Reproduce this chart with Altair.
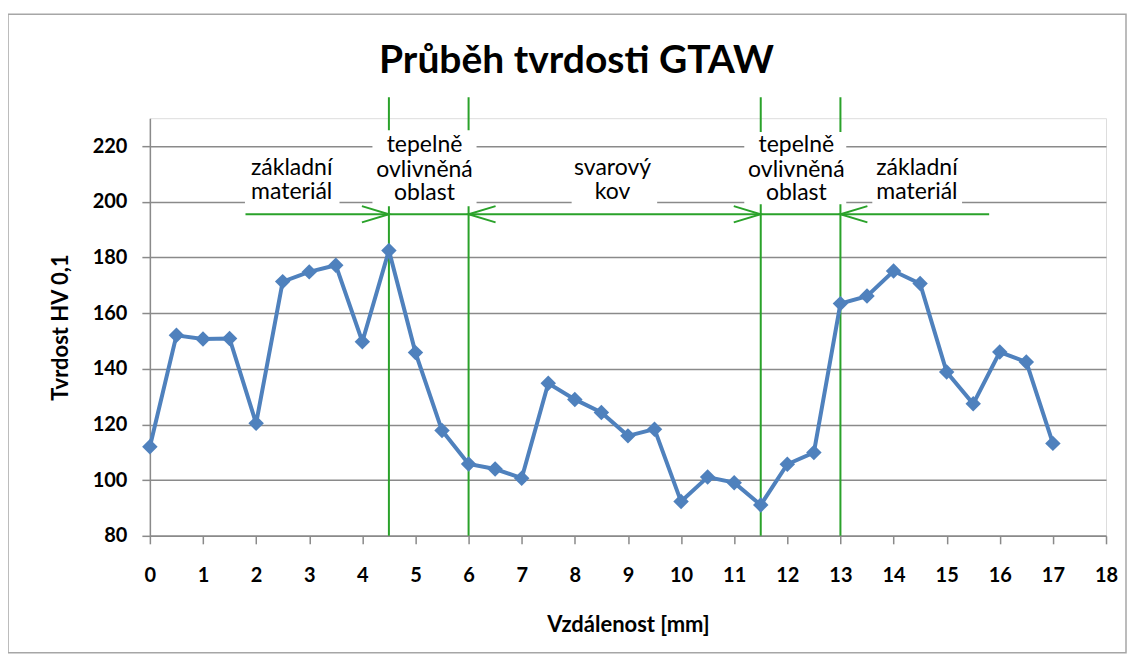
import altair as alt
import pandas as pd

# ---- data ----
distance = [0, 0.5, 1, 1.5, 2, 2.5, 3, 3.5, 4, 4.5, 5, 5.5, 6, 6.5, 7, 7.5, 8, 8.5,
            9, 9.5, 10, 10.5, 11, 11.5, 12, 12.5, 13, 13.5, 14, 14.5, 15, 15.5, 16, 16.5, 17]
hardness = [112, 152, 150.7, 150.9, 120.4, 171.3, 174.8, 177.2, 149.7, 182.5, 145.8, 117.8,
            105.8, 104, 100.7, 134.8, 129, 124.3, 115.9, 118.3, 92.3, 101.1, 99.1, 91.1,
            105.7, 109.9, 163.4, 166.1, 175.1, 170.6, 138.8, 127.4, 146, 142.4, 113.2]

x_ticks = [0, 1, 2, 3, 4, 5, 6, 7, 8, 9, 10, 11, 12, 13, 14, 15, 16, 17, 18]
y_ticks = [80, 100, 120, 140, 160, 180, 200, 220]
x_domain = [0, 18]
y_domain = [80, 230]

zone_x = [4.5, 6, 11.5, 13]
zone_bottom = 80
zone_top = 237.5

arrow_start = 1.8
arrow_end = 15.8
arrow_y = 195.5
head_x = [4.5, 6, 11.5, 13]
head_angle = [0, 180, 0, 180]

ann_text = ["základní", "materiál", "tepelně", "ovlivněná", "oblast", "svarový", "kov",
            "tepelně", "ovlivněná", "oblast", "základní", "materiál"]
ann_x = [2.67, 2.67, 5.17, 5.17, 5.17, 8.71, 8.71, 12.17, 12.17, 12.17, 14.44, 14.44]
ann_y = [212.0, 203.4, 220.3, 211.4, 203.1, 212.0, 203.4, 220.3, 211.5, 203.0, 212.0, 203.4]

box_x1 = [1.79, 4.19, 7.94, 11.19, 13.6]
box_x2 = [3.57, 6.15, 9.55, 13.11, 15.29]
box_top = [218.5, 225.7, 218.5, 225.0, 218.5]
box_bottom = [198.8, 198.4, 198.8, 199.1, 198.8]

title_text = "Průběh tvrdosti GTAW"
x_title = "Vzdálenost [mm]"
y_title = "Tvrdost HV 0,1"

FONT = "Lato"
BLUE = "#4F81BD"
GREEN = "#2AA22A"
GRID = "#8A8A8A"

x_scale = alt.Scale(domain=x_domain, nice=False, zero=False)
y_scale = alt.Scale(domain=y_domain, nice=False, zero=False)

x_axis = alt.Axis(values=x_ticks, grid=False, title=x_title, tickSize=8, tickColor=GRID,
                  tickWidth=1.5, domainColor=GRID, domainWidth=1.5,
                  labelFont=FONT, labelFontSize=20, labelFontWeight="bold", labelColor="black",
                  labelPadding=22, labelFlush=False,
                  titleFont=FONT, titleFontSize=22, titleFontWeight="bold", titleColor="black",
                  titlePadding=29)
y_axis = alt.Axis(values=y_ticks, grid=True, gridColor=GRID, gridWidth=1.5, title=y_title,
                  tickSize=8, tickColor=GRID, tickWidth=1.5, domainColor=GRID, domainWidth=1.5,
                  labelFont=FONT, labelFontSize=20, labelFontWeight="bold", labelColor="black",
                  labelPadding=15,
                  titleFont=FONT, titleFontSize=22, titleFontWeight="bold", titleColor="black",
                  titlePadding=20)

df = pd.DataFrame({"x": distance, "y": hardness})

line = alt.Chart(df).mark_line(color=BLUE, strokeWidth=4).encode(
    x=alt.X("x:Q", scale=x_scale, axis=x_axis),
    y=alt.Y("y:Q", scale=y_scale, axis=y_axis),
)
pts = alt.Chart(df).mark_point(shape="diamond", filled=True, size=240, color=BLUE, opacity=1).encode(
    x="x:Q", y="y:Q"
)

zone_df = pd.DataFrame({"x": zone_x, "y": [zone_bottom] * len(zone_x), "y2": [zone_top] * len(zone_x)})
vrules = alt.Chart(zone_df).mark_rule(color=GREEN, strokeWidth=2).encode(
    x="x:Q", y="y:Q", y2="y2:Q"
)

shaft_df = pd.DataFrame({"x": [arrow_start], "x2": [arrow_end], "y": [arrow_y]})
shaft = alt.Chart(shaft_df).mark_rule(color=GREEN, strokeWidth=2).encode(
    x="x:Q", x2="x2:Q", y="y:Q"
)

head_df = pd.DataFrame({"x": head_x, "y": [arrow_y] * len(head_x), "ang": head_angle})
heads = alt.Chart(head_df).mark_point(shape="M-1,-0.3L0,0L-1,0.3", filled=False, size=2916,
                                      strokeWidth=2, color=GREEN, opacity=1).encode(
    x="x:Q", y="y:Q", angle=alt.Angle("ang:Q", scale=None)
)

box_df = pd.DataFrame({"x": box_x1, "x2": box_x2, "y": box_top, "y2": box_bottom})
boxes = alt.Chart(box_df).mark_rect(fill="white", stroke=None).encode(
    x="x:Q", x2="x2:Q", y="y:Q", y2="y2:Q"
)

ann_df = pd.DataFrame({"x": ann_x, "y": ann_y, "t": ann_text})
texts = alt.Chart(ann_df).mark_text(font=FONT, fontSize=23, color="black", baseline="middle").encode(
    x="x:Q", y="y:Q", text="t:N"
)

title = alt.Chart(pd.DataFrame({"t": [title_text]})).mark_text(
    font=FONT, fontSize=39, fontWeight="bold", color="black", baseline="alphabetic", align="center"
).encode(x=alt.value(427), y=alt.value(-45), text="t:N")

border = alt.Chart(pd.DataFrame({"a": [0]})).mark_rect(fill=None, stroke="#A6A6A6", strokeWidth=1.5).encode(
    x=alt.value(-142), x2=alt.value(977), y=alt.value(-104), y2=alt.value(535)
)

chart = alt.layer(border, vrules, shaft, heads, boxes, texts, line, pts, title).properties(
    width=957, height=418,
    autosize=alt.AutoSizeParams(type="none"),
    padding={"left": 142, "top": 110, "right": 22, "bottom": 120},
).configure_view(stroke=None).configure(background="white")

chart.save("out.html", embed_options={"renderer": "svg", "actions": False})
